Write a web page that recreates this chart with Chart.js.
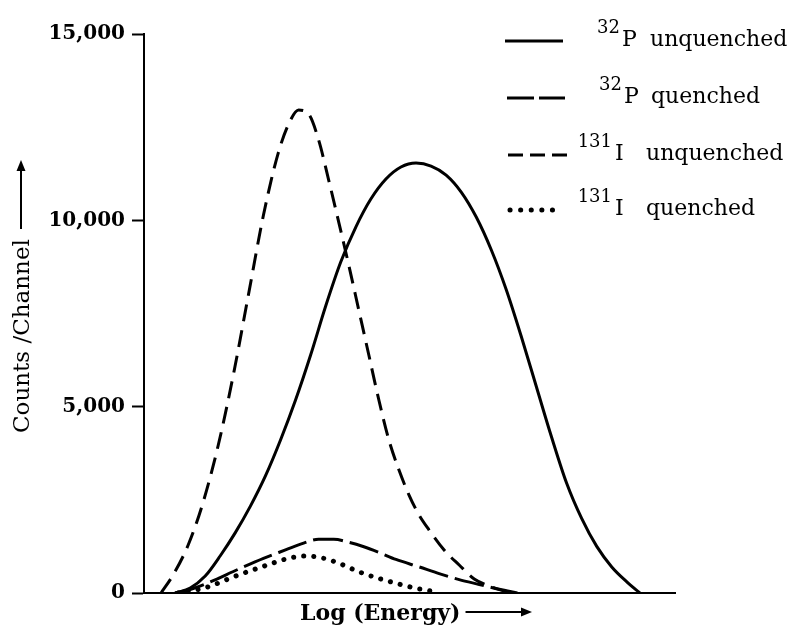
<!DOCTYPE html>
<html><head><meta charset="utf-8">
<script src="https://cdn.jsdelivr.net/npm/chart.js@4.4.0/dist/chart.umd.min.js"></script>
<style>html,body{margin:0;padding:0;background:#fff;}#wrap{width:793px;height:628px;}</style>
</head><body><div id="wrap"><canvas id="c" width="793" height="628"></canvas></div>
<script>
// ---- data ----
const seriesSup = ['32', '32', '131', '131'];
const seriesIso = ['P', 'P', 'I', 'I'];
const seriesState = ['unquenched', 'quenched', 'unquenched', 'quenched'];

const p32UnqX = [5.86, 8.70, 11.53, 14.37, 17.20, 20.04, 22.87, 25.71, 28.54, 31.38, 34.22, 37.05, 39.89, 42.72, 45.56, 48.39, 51.23, 54.06, 56.90, 59.74, 62.57, 65.41, 68.24, 71.08, 73.91, 76.75, 79.58, 82.42, 85.26, 88.09, 90.93, 93.38];
const p32UnqY = [0, 134, 456, 1000, 1620, 2330, 3140, 4105, 5178, 6386, 7700, 8880, 9820, 10571, 11108, 11430, 11537, 11457, 11215, 10759, 10088, 9203, 8129, 6868, 5527, 4185, 2950, 2000, 1250, 700, 300, 0];

const p32QX = [5.86, 9.26, 12.10, 17.77, 22.50, 26.65, 30.06, 32.89, 35.73, 38.56, 41.40, 44.23, 47.45, 51.80, 55.58, 59.36, 63.14, 66.92, 70.32];
const p32QY = [0, 120, 274, 639, 930, 1156, 1340, 1440, 1440, 1360, 1240, 1090, 900, 700, 520, 360, 230, 100, 0];

const i131UnqX = [3.21, 5.48, 8.32, 11.15, 13.99, 16.82, 19.66, 22.50, 25.33, 27.60, 29.11, 31.00, 32.89, 34.78, 36.67, 38.56, 40.45, 42.34, 44.23, 46.12, 48.02, 49.91, 51.80, 53.69, 56.52, 59.36, 62.19, 65.03, 67.86, 69.75];
const i131UnqY = [0, 483, 1288, 2442, 3971, 5849, 7995, 10142, 11832, 12691, 12959, 12852, 12154, 11081, 9954, 8800, 7593, 6386, 5178, 4105, 3300, 2629, 2093, 1690, 1154, 751, 376, 188, 54, 0];

const i131QX = [6.43, 11.53, 17.20, 23.44, 27.22, 30.06, 32.89, 36.11, 41.02, 47.45, 51.80, 54.63];
const i131QY = [0, 140, 451, 762, 930, 990, 960, 830, 540, 260, 110, 40];

const yTickValues = [0, 5000, 10000, 15000];
const yTitle = 'Counts /Channel';
const xTitle = 'Log (Energy)';

const pts = (xs, ys) => xs.map((x, i) => ({x, y: ys[i]}));

const styles = [
  {borderDash: [], legendDash: [], cap: 'butt', width: 3, lx: [505, 563]},
  {borderDash: [30, 7], legendDash: [27, 5], cap: 'butt', width: 3, lx: [507, 565]},
  {borderDash: [17, 9], legendDash: [15, 7], cap: 'butt', width: 3, lx: [508, 568]},
  {borderDash: [0.1, 10], legendDash: [0.1, 10.5], cap: 'round', width: 5, lx: [510, 563]}
];
const dataArrays = [[p32UnqX, p32UnqY], [p32QX, p32QY], [i131UnqX, i131UnqY], [i131QX, i131QY]];

const datasets = dataArrays.map((d, i) => ({
  label: seriesSup[i] + seriesIso[i] + ' ' + seriesState[i],
  data: pts(d[0], d[1]),
  borderColor: '#000',
  borderWidth: styles[i].width,
  borderDash: styles[i].borderDash,
  borderCapStyle: styles[i].cap,
  pointRadius: 0,
  fill: false,
  cubicInterpolationMode: 'monotone'
}));

function arrow(ctx, x1, y1, x2, y2) {
  const ang = Math.atan2(y2 - y1, x2 - x1);
  const hl = 11, hw = 4.5;
  const bx = x2 - hl * Math.cos(ang), by = y2 - hl * Math.sin(ang);
  ctx.lineWidth = 2;
  ctx.setLineDash([]);
  ctx.beginPath(); ctx.moveTo(x1, y1); ctx.lineTo(bx, by); ctx.stroke();
  ctx.beginPath();
  ctx.moveTo(x2, y2);
  ctx.lineTo(bx - hw * Math.sin(ang), by + hw * Math.cos(ang));
  ctx.lineTo(bx + hw * Math.sin(ang), by - hw * Math.cos(ang));
  ctx.closePath(); ctx.fill();
}

const decorPlugin = {
  id: 'decor',
  afterDraw(chart) {
    const ctx = chart.ctx;
    ctx.save();
    ctx.fillStyle = '#000';
    ctx.strokeStyle = '#000';
    // legend
    const lineY = [41, 98, 155, 210];
    const supRight = [620, 622, 612, 612];
    const isoX = [622, 624, 615, 615];
    const stateX = [650, 651, 646, 646];
    for (let i = 0; i < 4; i++) {
      const st = styles[i];
      ctx.lineWidth = st.width;
      ctx.lineCap = st.cap;
      ctx.setLineDash(st.legendDash);
      ctx.beginPath();
      ctx.moveTo(st.lx[0], lineY[i]);
      ctx.lineTo(st.lx[1], lineY[i]);
      ctx.stroke();
      ctx.setLineDash([]);
      ctx.lineCap = 'butt';
      ctx.textBaseline = 'alphabetic';
      ctx.font = '18px "DejaVu Serif"';
      ctx.textAlign = 'right';
      ctx.fillText(seriesSup[i], supRight[i], lineY[i] - 8);
      ctx.font = '22px "DejaVu Serif"';
      ctx.textAlign = 'left';
      ctx.fillText(seriesIso[i], isoX[i], lineY[i] + 5);
      ctx.fillText(seriesState[i], stateX[i], lineY[i] + 5);
    }
    // y axis title with arrow
    ctx.save();
    ctx.translate(29, 433);
    ctx.rotate(-Math.PI / 2);
    ctx.font = '23px "DejaVu Serif"';
    ctx.textAlign = 'left';
    ctx.textBaseline = 'alphabetic';
    ctx.fillText(yTitle, 0, 0);
    const w = ctx.measureText(yTitle).width;
    ctx.restore();
    arrow(ctx, 21, 433 - w - 10, 21, 160);
    // x axis title with arrow
    ctx.font = 'bold 22px "DejaVu Serif"';
    ctx.textAlign = 'left';
    ctx.textBaseline = 'alphabetic';
    ctx.fillText(xTitle, 300, 620);
    const wx = ctx.measureText(xTitle).width;
    arrow(ctx, 300 + wx + 5, 612, 532, 612);
    ctx.restore();
  }
};

new Chart(document.getElementById('c'), {
  type: 'line',
  data: {datasets},
  plugins: [decorPlugin],
  options: {
    responsive: false,
    devicePixelRatio: 1,
    animation: false,
    layout: {padding: {top: 34, right: 118, bottom: 0, left: 0}},
    plugins: {legend: {display: false}, tooltip: {enabled: false}},
    scales: {
      x: {
        type: 'linear', min: 0, max: 100,
        ticks: {display: false},
        grid: {display: false, drawTicks: false},
        border: {display: true, color: '#000', width: 2},
        title: {display: false},
        afterFit(s) { s.height = 35; }
      },
      y: {
        type: 'linear', min: 0, max: 15000,
        afterBuildTicks(s) { s.ticks = yTickValues.map(v => ({value: v})); },
        ticks: {color: '#000', padding: 7,
          font: {family: '"DejaVu Serif"', size: 20, weight: 'bold'},
          callback: v => v.toLocaleString('en-US')},
        grid: {drawOnChartArea: false, drawTicks: true, tickLength: 12, tickColor: '#000', tickWidth: 2},
        border: {display: true, color: '#000', width: 2},
        title: {display: false},
        afterFit(s) { s.width = 144; }
      }
    }
  }
});
</script></body></html>
